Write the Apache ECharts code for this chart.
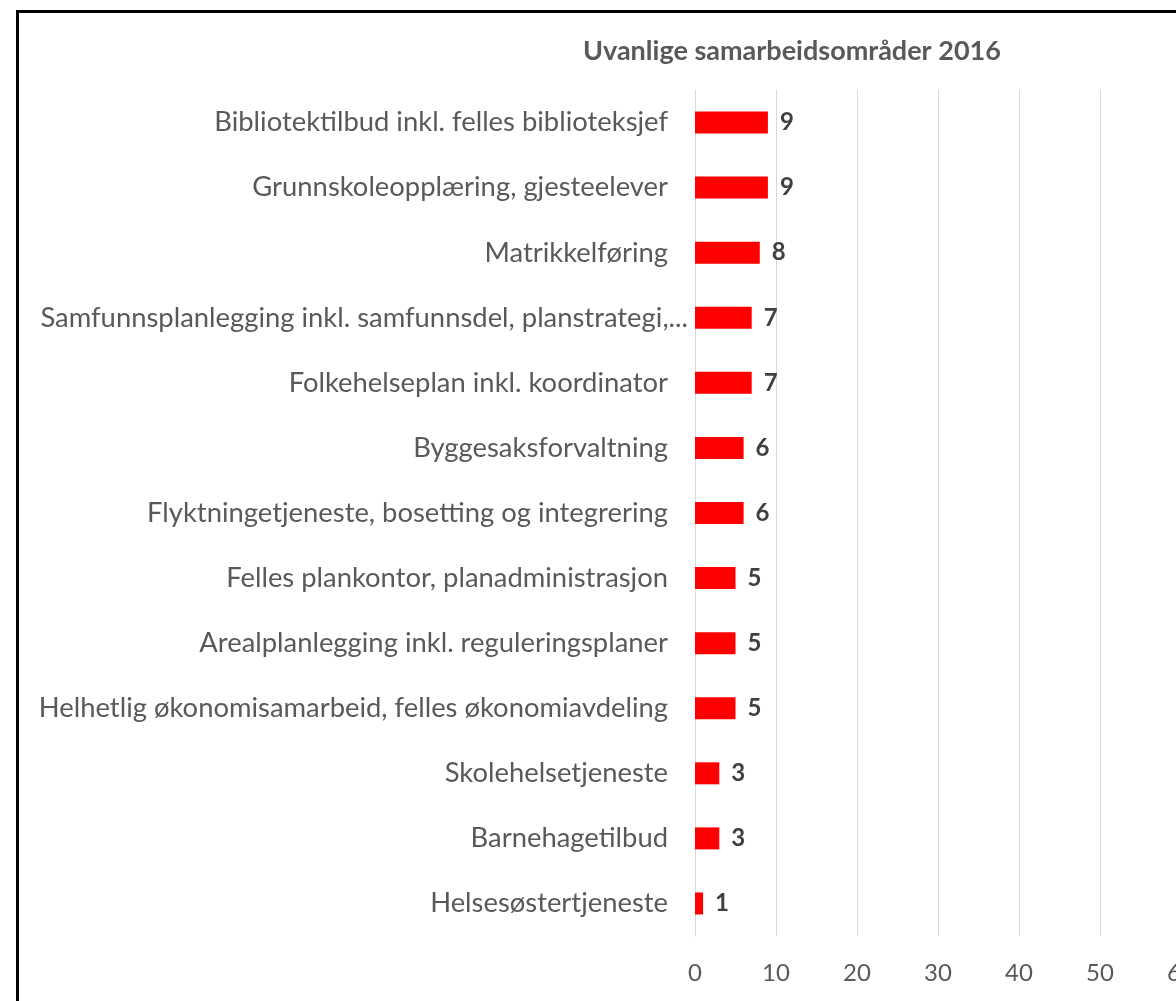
<!DOCTYPE html>
<html>
<head>
<meta charset="utf-8">
<script src="https://cdn.jsdelivr.net/npm/echarts@6/dist/echarts.min.js"></script>
<style>
  html, body { margin: 0; padding: 0; background: #fff; overflow: hidden; }
  .frame { position: absolute; left: 16px; top: 10px; width: 1200px; height: 1050px; border: 3px solid #000; }
  .bar { position: absolute; left: 0; top: 0; width: 1176px; height: 1001px; }
</style>
</head>
<body>
<div class="frame"></div>
<div class="bar"></div>
<script>
'use strict';

var categories = [
  'Bibliotektilbud inkl. felles biblioteksjef',
  'Grunnskoleopplæring, gjesteelever',
  'Matrikkelføring',
  'Samfunnsplanlegging inkl. samfunnsdel, planstrategi,...',
  'Folkehelseplan inkl. koordinator',
  'Byggesaksforvaltning',
  'Flyktningetjeneste, bosetting og integrering',
  'Felles plankontor, planadministrasjon',
  'Arealplanlegging inkl. reguleringsplaner',
  'Helhetlig økonomisamarbeid, felles økonomiavdeling',
  'Skolehelsetjeneste',
  'Barnehagetilbud',
  'Helsesøstertjeneste'
];
var values = [9, 9, 8, 7, 7, 6, 6, 5, 5, 5, 3, 3, 1];
var title = 'Uvanlige samarbeidsområder 2016';

var font = 'Lato, "Open Sans", sans-serif';

// the cut-off label runs a bit past the others, like in the original
var yData = categories.map(function (name) {
  if (name.indexOf('...') > -1) {
    return { value: name, textStyle: { padding: [0, -20, 0, 0] } };
  }
  return name;
});

var option = {
  animation: false,
  title: {
    text: title,
    left: 787,
    textAlign: 'center',
    top: 33,
    textStyle: { color: '#595959', fontSize: 27, fontWeight: 'bold', fontFamily: font }
  },
  grid: {
    left: 695,
    top: 90,
    width: 486,
    height: 846,
    containLabel: false,
    outerBoundsMode: 'none'
  },
  xAxis: {
    type: 'value',
    min: 0,
    max: 60,
    interval: 10,
    axisLine: { show: false },
    axisTick: { show: false },
    splitLine: { lineStyle: { color: '#d9d9d9', width: 1 } },
    axisLabel: { color: '#595959', fontSize: 24, fontFamily: font, margin: 25 }
  },
  yAxis: {
    type: 'category',
    inverse: true,
    data: yData,
    axisLine: { show: true, lineStyle: { color: '#d9d9d9' } },
    axisTick: { show: false },
    axisLabel: { color: '#595959', fontSize: 27.4, fontFamily: font, margin: 27 }
  },
  series: [{
    type: 'bar',
    data: values,
    barWidth: 22,
    itemStyle: { color: '#ff0000' },
    label: {
      show: true,
      position: 'right',
      distance: 12,
      color: '#404040',
      fontSize: 24,
      fontWeight: 'bold',
      fontFamily: font
    }
  }]
};

var myChart = echarts.init(document.getElementsByClassName('bar')[0]);
myChart.setOption(option);
</script>
</body>
</html>
